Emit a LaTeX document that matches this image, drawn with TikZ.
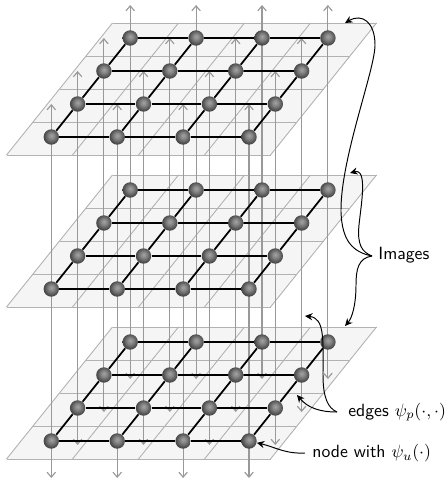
\documentclass[tikz,border=0pt]{standalone}
\usepackage{amsmath,amssymb}
\usetikzlibrary{arrows.meta,positioning,calc}
\pgfdeclarelayer{sheets}
\pgfdeclarelayer{wires}
\pgfsetlayers{sheets,wires,main}
\pgfdeclareradialshading{orb}{\pgfpoint{0bp}{5bp}}{color(0bp)=(black!36); color(10bp)=(black!48); color(22bp)=(black!68); color(34bp)=(black!86); color(46bp)=(black!96); color(56bp)=(black)}

\begin{document}
\begin{tikzpicture}[
  x=0.565pt, y=-0.565pt,
  sheet/.style={fill=black!4, draw=none},
  gridline/.style={draw=black!30, line width=0.5pt},
  wire/.style={draw=black!40, line width=0.65pt, {Straight Barb[length=2.8pt,width=4.8pt]}-{Straight Barb[length=2.8pt,width=4.8pt]}},
  edge/.style={draw=black, line width=1pt},
  ball/.style={circle, inner sep=0pt, minimum size=8.7pt, shading=orb},
  note/.style={font=\sffamily, inner sep=0pt},
  pointer/.style={draw=black, line width=0.55pt, -{Stealth[length=4.2pt,width=4pt]}}
]
\useasboundingbox (0,0) rectangle (445,478);

% Three image planes with their grid and nodes
\foreach \p/\t in {1/23, 2/175, 3/327} {
  \begin{pgfonlayer}{sheets}
    \fill[sheet] (112.5,\t) -- (376.5,\t) -- (270.5,\t+132) -- (6.5,\t+132) -- cycle;
    \foreach \k in {0,...,4} {
      \draw[gridline] (6.5-\k*-26.5,\t+132-\k*33) -- (270.5-\k*-26.5,\t+132-\k*33);
      \draw[gridline] (6.5+\k*66,\t+132) -- (112.5+\k*66,\t);
    }
  \end{pgfonlayer}
  \foreach \i in {0,...,3} {
    \foreach \j in {0,...,3} {
      \node[ball] (n-\p-\i-\j) at (51.3+\i*65.9+\j*26.3,\t+114-\j*33) {};
    }
  }
  % Edges of the grid
  \begin{pgfonlayer}{wires}
    \foreach \i in {0,...,3} {
      \foreach \j/\jj in {0/1, 1/2, 2/3} {
        \draw[edge] (n-\p-\i-\j) -- (n-\p-\i-\jj);
        \draw[edge] (n-\p-\j-\i) -- (n-\p-\jj-\i);
      }
    }
  \end{pgfonlayer}
}

% Vertical arrows through the stack
\begin{pgfonlayer}{sheets}
  \foreach \i in {0,...,3} {
    \foreach \j in {0,...,3} {
      \coordinate (up-\i-\j) at ($(n-1-\i-\j)+(0,-33)$);
      \coordinate (down-\i-\j) at ($(n-3-\i-\j)+(0,37)$);
      \draw[wire] (down-\i-\j) -- (up-\i-\j);
    }
  }
\end{pgfonlayer}

% Labels
\node[note, anchor=west] (images) at (378,255) {Images};
\node[note, anchor=west] (edges) at (348,412) {edges $\psi_p(\cdot,\cdot)$};
\node[note, anchor=west] (unary) at (312,453) {node with $\psi_u(\cdot)$};

\coordinate (tip-top) at (345,23);
\coordinate (tip-mid) at (350,173);
\coordinate (tip-low) at (345,326);
\coordinate (tip-edge-a) at (305,316);
\coordinate (tip-edge-b) at (297,395);

% Pointers to the planes
\draw[pointer] ($(images.west)+(-6,1)$) .. controls (352,252) and (342,240) .. (341,212)
  .. controls (340,160) and (375,70) .. (375,45)
  .. controls (375,22) and (362,13) .. (tip-top);
\draw[pointer] ($(images.west)+(-6,1)$) .. controls (362,252) and (357,245) .. (359,225)
  .. controls (361,205) and (368,168) .. (tip-mid);
\draw[pointer] ($(images.west)+(-6,1)$) .. controls (358,258) and (356,270) .. (356,285)
  .. controls (356,305) and (352,318) .. (tip-low);

% Pointers to the edges and a node
\draw[pointer] ($(edges.west)+(-11,0)$) .. controls (328,408) and (323,398) .. (323,375)
  .. controls (323,340) and (325,318) .. (tip-edge-a);
\draw[pointer] ($(edges.west)+(-11,0)$) .. controls (320,412) and (308,408) .. (tip-edge-b);
\draw[pointer] ($(unary.west)+(-7,0)$) .. controls (285,454) and (275,447) .. (n-3-3-0);

\end{tikzpicture}
\end{document}
